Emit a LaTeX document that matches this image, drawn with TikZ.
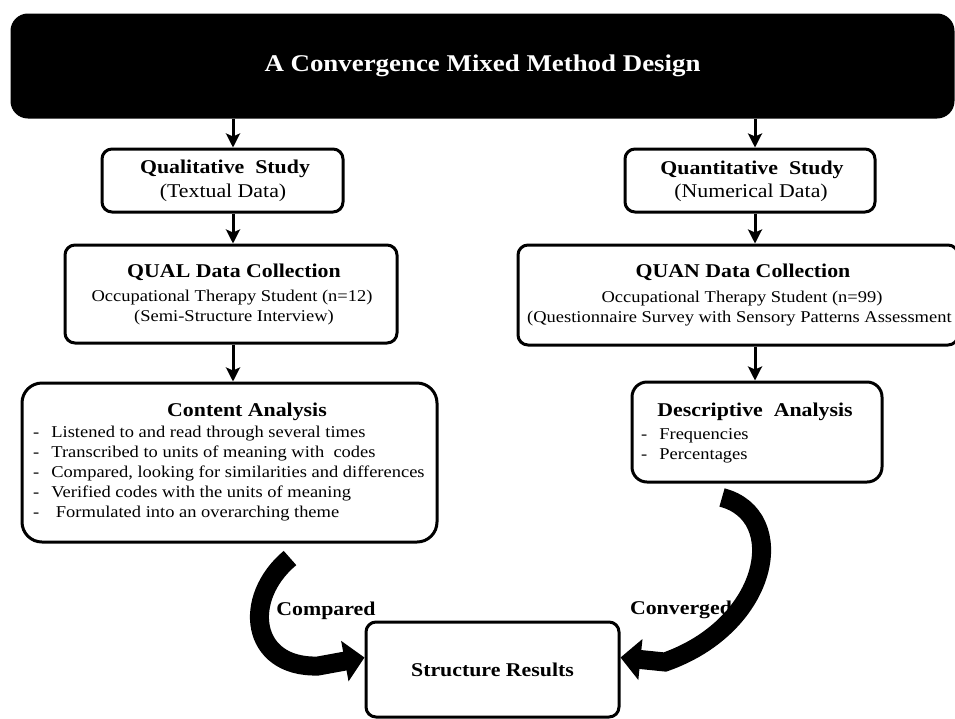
\documentclass[tikz,border=0pt]{standalone}
\usepackage{fontspec}
\setmainfont{Liberation Serif}[FakeStretch=1.12]
\usetikzlibrary{arrows.meta,calc}
\begin{document}
\begin{tikzpicture}[x=1pt,y=-1pt,
 box/.style={draw, line width=3pt, rounded corners=10pt, inner sep=0pt, fill=white},
 conn/.style={line width=3pt, -{Stealth[length=14pt,width=14pt,inset=3pt]}},
 bigarrow/.style={line width=19pt, -{Triangle[length=20pt,width=40pt]}},
 hd/.style={font=\fontsize{19.5}{23}\selectfont\bfseries, inner sep=0pt, text height=13.5pt, text depth=4pt},
 sub/.style={font=\fontsize{19.5}{23}\selectfont, inner sep=0pt, text height=13.5pt, text depth=4pt},
 bd/.style={font=\fontsize{16.5}{20}\selectfont, inner sep=0pt, text height=11.5pt, text depth=3.5pt},
 lst/.style={font=\fontsize{16.5}{20}\selectfont, inner sep=0pt, anchor=west}
]
\useasboundingbox (0,0) rectangle (955,718);
\fill[white] (0,0) rectangle (955,718);

% top banner
\node[box, fill=black, text=white, rounded corners=16pt, minimum width=941pt, minimum height=102pt,
      font=\fontsize{24}{28}\selectfont\bfseries] (top) at (482.5,66) {A Convergence Mixed Method Design};

% left column
\node[box, minimum width=241pt, minimum height=63pt] (qual) at (222.5,180.5) {};
\node[hd] (qualt) at (225,169) {Qualitative\ \ Study};
\node[sub] (quals) at (223,193) {(Textual Data)};

\node[box, minimum width=332pt, minimum height=98pt] (qualdc) at (231,294) {};
\node[hd] (qualdct) at (234,273) {QUAL Data Collection};
\node[bd] (qualdc1) at (232,297) {Occupational Therapy Student (n=12)};
\node[bd] (qualdc2) at (234,317) {(Semi-Structure Interview)};

\node[box, rounded corners=20pt, minimum width=415pt, minimum height=159pt] (content) at (229.5,462.5) {};
\node[hd] (contentt) at (247,412) {Content Analysis};
\node[lst] (contentl) at (33,473) {\begin{tabular}{@{}l@{\hspace{12pt}}l@{}}
- & Listened to and read through several times\\
- & Transcribed to units of meaning with\ \ codes\\
- & Compared, looking for similarities and differences\\
- & Verified codes with the units of meaning\\
- & \ Formulated into an overarching theme
\end{tabular}};

% right column
\node[box, minimum width=250pt, minimum height=63pt] (quan) at (750,180.5) {};
\node[hd] (quant) at (752,170) {Quantitative\ \ Study};
\node[sub] (quans) at (751,193) {(Numerical Data)};

\node[box, minimum width=440pt, minimum height=100pt] (quandc) at (738,295) {};
\node[hd] (quandct) at (743,273) {QUAN Data Collection};
\node[bd] (quandc1) at (742,298) {Occupational Therapy Student (n=99)};
\node[bd, anchor=west] (quandc2) at (527,318) {(Questionnaire Survey with Sensory Patterns Assessment};

\node[box, rounded corners=15pt, minimum width=250pt, minimum height=100pt] (desc) at (757,432) {};
\node[hd] (desct) at (755,412) {Descriptive\ \ Analysis};
\node[lst] (descl) at (641,445) {\begin{tabular}{@{}l@{\hspace{12pt}}l@{}}
- & Frequencies\\
- & Percentages
\end{tabular}};

% result
\node[box, minimum width=253pt, minimum height=95pt, font=\fontsize{19.5}{23}\selectfont\bfseries] (sr) at (492.5,669.5) {Structure Results};

% straight connectors
\coordinate (xl) at (233,0);
\coordinate (xr) at (755,0);
\draw[conn] (top.south -| xl) -- (qual.north -| xl);
\draw[conn] (qual.south -| xl) -- (qualdc.north -| xl);
\draw[conn] (qualdc.south -| xl) -- (content.north -| xl);
\draw[conn] (top.south -| xr) -- (quan.north -| xr);
\draw[conn] (quan.south -| xr) -- (quandc.north -| xr);
\draw[conn] (quandc.south -| xr) -- (desc.north -| xr);

% curved block arrows
\coordinate (ca) at ($(content.south)+(60.5,14.5)$);
\coordinate (cb) at ($(desc.south)+(-35,14)$);
\draw[bigarrow] (ca) .. controls (242,598) and (250,668) .. (318,666) -- ($(sr.west)+(0,-12)$);
\draw[bigarrow] (cb) .. controls (790,515) and (770,625) .. (665,662) -- ($(sr.east)+(0,-12)$);

\node[hd] (cmp) at (326,611) {Compared};
\node[hd] (cnv) at (681,610) {Converged};
\end{tikzpicture}
\end{document}
